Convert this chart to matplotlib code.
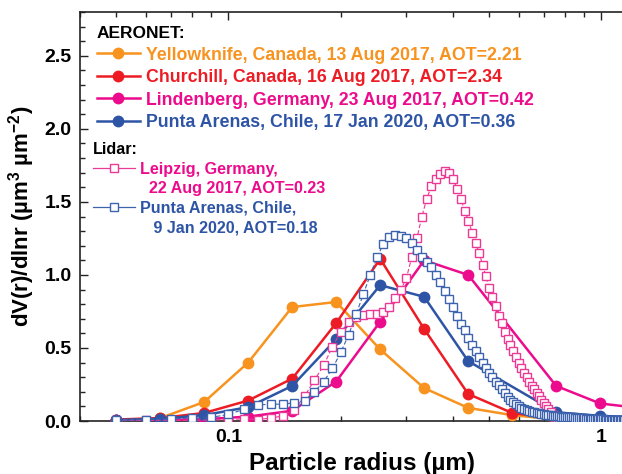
import numpy as np
import matplotlib
matplotlib.use("Agg")
import matplotlib.pyplot as plt
from matplotlib.lines import Line2D
from matplotlib.ticker import FixedLocator, FuncFormatter, MultipleLocator, NullFormatter

plt.rcParams["font.family"] = ["Liberation Sans", "DejaVu Sans"]
plt.rcParams["font.weight"] = "bold"
plt.rcParams["mathtext.fontset"] = "custom"
plt.rcParams["mathtext.rm"] = "Liberation Sans:bold"
plt.rcParams["mathtext.bf"] = "Liberation Sans:bold"

# ---- AERONET volume size distributions (radius in µm, dV/dlnr) ----
r_yellowknife = [0.05, 0.065604, 0.086077, 0.112939, 0.148184, 0.194429, 0.255105,
                 0.334716, 0.439173, 0.576227, 0.756052, 0.991996, 1.301571]
v_yellowknife = [0.005, 0.02, 0.13, 0.40, 0.78, 0.815, 0.49, 0.225, 0.09, 0.04, 0.01, 0.004, 0.003]

r_churchill = [0.05, 0.065604, 0.086077, 0.112939, 0.148184, 0.194429, 0.255105,
               0.334716, 0.439173, 0.576227, 0.756052, 0.991996, 1.301571]
v_churchill = [0.01, 0.02, 0.055, 0.14, 0.29, 0.67, 1.11, 0.63, 0.185, 0.055, 0.015, 0.006, 0.004]

r_lindenberg = [0.05, 0.065604, 0.086077, 0.112939, 0.148184, 0.194429, 0.255105,
                0.334716, 0.439173, 0.756052, 0.991996, 1.301571]
v_lindenberg = [0.005, 0.006, 0.012, 0.03, 0.07, 0.27, 0.68, 1.10, 1.00, 0.24, 0.12, 0.085]

r_punta_aer = [0.05, 0.065604, 0.086077, 0.112939, 0.148184, 0.194429, 0.255105,
               0.334716, 0.439173, 0.756052, 0.991996, 1.301571]
v_punta_aer = [0.007, 0.015, 0.04, 0.095, 0.24, 0.56, 0.93, 0.85, 0.41, 0.06, 0.035, 0.025]

# ---- Lidar inversions on a 0.01 µm radius grid, 0.05 ... 1.30 µm ----
r_lidar = np.round(np.arange(0.05, 1.3001, 0.01), 2)

v_leipzig = [
    0.005, 0.005, 0.005, 0.005, 0.006,
    0.010, 0.015, 0.010, 0.020, 0.035, 0.075, 0.170, 0.280, 0.380, 0.510,
    0.610, 0.675, 0.710, 0.725, 0.730, 0.735, 0.745, 0.780, 0.840, 0.900,
    0.980, 1.120, 1.250, 1.400, 1.520, 1.610, 1.660, 1.690, 1.710, 1.700,
    1.660, 1.590, 1.520, 1.440, 1.370, 1.290, 1.220, 1.150, 1.070, 0.990,
    0.910, 0.850, 0.790, 0.720, 0.670, 0.610, 0.560, 0.520, 0.480, 0.440,
    0.400, 0.360, 0.330, 0.300, 0.270, 0.240, 0.220, 0.190, 0.170, 0.145,
    0.120, 0.100, 0.080, 0.060, 0.040, 0.025, 0.015, 0.010, 0.007, 0.005,
    0.004, 0.004, 0.004, 0.004, 0.003, 0.003, 0.003, 0.003, 0.003, 0.003,
    0.003, 0.003, 0.002, 0.002, 0.002, 0.002, 0.002, 0.002, 0.002, 0.002,
    0.002, 0.002, 0.002, 0.002, 0.002, 0.001, 0.001, 0.001, 0.001, 0.001,
    0.001, 0.001, 0.001, 0.001, 0.001, 0.001, 0.001, 0.001, 0.001, 0.001,
    0.001, 0.001, 0.001, 0.001, 0.001, 0.001, 0.001, 0.001, 0.001, 0.001,
    0.001,
]

v_punta_lidar = [
    0.005, 0.010, 0.015, 0.020, 0.025,
    0.045, 0.080, 0.110, 0.115, 0.115, 0.125, 0.140, 0.200, 0.270, 0.360,
    0.470, 0.590, 0.730, 0.870, 1.000, 1.120, 1.210, 1.260, 1.270, 1.265,
    1.250, 1.220, 1.170, 1.120, 1.090, 1.055, 1.000, 0.950, 0.890, 0.835,
    0.780, 0.720, 0.665, 0.620, 0.570, 0.520, 0.480, 0.440, 0.400, 0.365,
    0.330, 0.300, 0.270, 0.245, 0.220, 0.190, 0.165, 0.145, 0.130, 0.115,
    0.100, 0.092, 0.085, 0.077, 0.070, 0.065, 0.060, 0.056, 0.052, 0.048,
    0.045, 0.042, 0.040, 0.038, 0.036, 0.034, 0.032, 0.031, 0.030, 0.029,
    0.028, 0.027, 0.026, 0.025, 0.024, 0.023, 0.022, 0.021, 0.020, 0.019,
    0.018, 0.017, 0.016, 0.015, 0.015, 0.014, 0.013, 0.013, 0.012, 0.012,
    0.011, 0.011, 0.010, 0.010, 0.010, 0.009, 0.009, 0.009, 0.008, 0.008,
    0.008, 0.008, 0.007, 0.007, 0.007, 0.007, 0.007, 0.006, 0.006, 0.006,
    0.006, 0.006, 0.006, 0.005, 0.005, 0.005, 0.005, 0.005, 0.005, 0.005,
    0.005,
]

aeronet_labels = [
    "Yellowknife, Canada, 13 Aug 2017, AOT=2.21",
    "Churchill, Canada, 16 Aug 2017, AOT=2.34",
    "Lindenberg, Germany, 23 Aug 2017, AOT=0.42",
    "Punta Arenas, Chile, 17 Jan 2020, AOT=0.36",
]
lidar_labels = [
    "Leipzig, Germany,",
    "  22 Aug 2017, AOT=0.23",
    "Punta Arenas, Chile,",
    "   9 Jan 2020, AOT=0.18",
]

c_orange = "#F7931E"
c_red = "#ED1C24"
c_magenta = "#EC0B8C"
c_blue = "#2E55A5"
c_lid_pink = "#EA3A95"
c_lid_blue = "#3E63AE"

W, H = 622, 474
fig = plt.figure(figsize=(W / 100, H / 100), dpi=100)
ax = fig.add_axes([80 / W, 53 / H, (644 - 80) / W, 409 / H])

aer_kw = dict(lw=1.8, marker="o", ms=8.5, mew=0, zorder=3)
l_yk, = ax.plot(r_yellowknife, v_yellowknife, color=c_orange, **aer_kw)
l_ch, = ax.plot(r_churchill, v_churchill, color=c_red, **aer_kw)
l_li, = ax.plot(r_lindenberg, v_lindenberg, color=c_magenta, **aer_kw)
l_pa, = ax.plot(r_punta_aer, v_punta_aer, color=c_blue, **aer_kw)

lid_kw = dict(lw=0.8, ls=(0, (4, 2)), marker="s", ms=6, mfc="white", mew=1.0, zorder=4)
ax.plot(r_lidar, v_leipzig, color=c_lid_pink, mec=c_lid_pink, **lid_kw)
ax.plot(r_lidar, v_punta_lidar, color=c_lid_blue, mec=c_lid_blue, **lid_kw)

ax.set_xscale("log")
ax.set_xlim(0.04, 1.3)
ax.set_ylim(0, 2.8)

ax.xaxis.set_major_locator(FixedLocator([0.1, 1.0]))
ax.xaxis.set_major_formatter(FuncFormatter(lambda v, p: "0.1" if v < 0.5 else "1"))
ax.xaxis.set_minor_locator(FixedLocator([0.04, 0.05, 0.06, 0.07, 0.08, 0.09,
                                         0.2, 0.3, 0.4, 0.5, 0.6, 0.7, 0.8, 0.9, 1.2]))
ax.xaxis.set_minor_formatter(NullFormatter())
ax.yaxis.set_major_locator(MultipleLocator(0.5))
ax.yaxis.set_minor_locator(MultipleLocator(0.1))
ax.yaxis.set_major_formatter(FuncFormatter(lambda v, p: f"{v:.1f}"))

for s in ax.spines.values():
    s.set_linewidth(1.2)
    s.set_color("#222222")
ax.tick_params(which="both", direction="in", top=True, right=True, color="#222222", width=1.0)
ax.tick_params(which="major", length=6, labelsize=14, pad=6)
ax.tick_params(which="minor", length=3.5)

ax.set_xlabel("Particle radius (µm)", fontsize=17.5, fontweight="bold", labelpad=4)
ax.set_ylabel("dV(r)/dlnr (µm$^{3}$ µm$^{-2}$)", fontsize=16, fontweight="bold", labelpad=5)

leg1 = ax.legend(handles=[l_yk, l_ch, l_li, l_pa], labels=aeronet_labels,
                 loc="upper left", bbox_to_anchor=(97 / W, 1 - 26 / H),
                 bbox_transform=fig.transFigure, frameon=False,
                 prop=dict(weight="bold", size=12.8), title="AERONET:",
                 title_fontproperties=dict(weight="bold", size=12.5), alignment="left",
                 labelcolor="linecolor", handlelength=2.4, handletextpad=0.33,
                 labelspacing=0.31, borderpad=0, borderaxespad=0)
ax.add_artist(leg1)

h_lz = Line2D([], [], color=c_lid_pink, lw=0.9, marker="s", ms=6, mfc="white", mec=c_lid_pink, mew=1.0)
h_pl = Line2D([], [], color=c_lid_blue, lw=0.9, marker="s", ms=6, mfc="white", mec=c_lid_blue, mew=1.0)
h_blank = Line2D([], [], ls="none")
leg2 = ax.legend(handles=[h_lz, h_blank, h_pl, h_blank], labels=lidar_labels,
                 loc="upper left", bbox_to_anchor=(93 / W, 1 - 142 / H),
                 bbox_transform=fig.transFigure, frameon=False,
                 prop=dict(weight="bold", size=11.6), title="Lidar:",
                 title_fontproperties=dict(weight="bold", size=11.6), alignment="left",
                 labelcolor=[c_magenta, c_magenta, c_blue, c_blue],
                 handlelength=2.6, handletextpad=0.3, labelspacing=0.28,
                 borderpad=0, borderaxespad=0)

fig.savefig("out.png", dpi=100)
